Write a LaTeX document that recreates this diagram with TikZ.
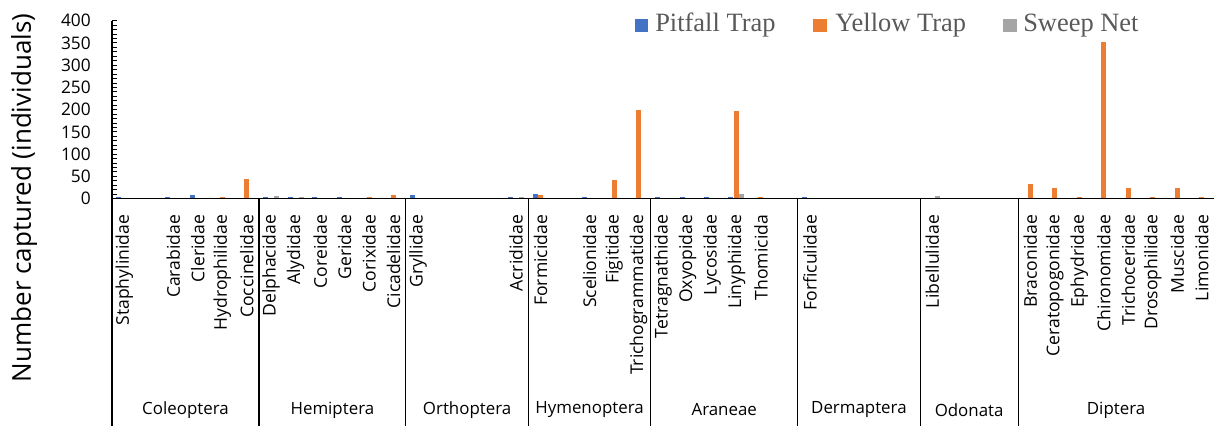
\documentclass[tikz,border=0pt]{standalone}
\usepackage{fontspec}
\setmainfont{Open Sans}
\newfontfamily\legendfont{Liberation Serif}
\definecolor{pitfallblue}{HTML}{4472C4}
\definecolor{yellowtrap}{HTML}{ED7D31}
\definecolor{sweepgray}{HTML}{A5A5A5}
\definecolor{legendtext}{HTML}{595959}
\tikzset{
  famlabel/.style={rotate=90, anchor=east, inner sep=0pt, font=\fontsize{12.5}{14}\selectfont},
  orderlabel/.style={inner sep=0pt, font=\fontsize{12}{14}\selectfont},
  ticklabel/.style={anchor=east, inner sep=0pt, font=\fontsize{12.3}{14}\selectfont},
  legendtext/.style={anchor=base west, inner sep=0pt, text=legendtext, font=\legendfont\fontsize{18.8}{22}\selectfont},
  axisline/.style={line width=0.8pt},
}
\newcommand{\slotw}{24.489}
\newcommand{\valsc}{0.4448}
\begin{document}
\begin{tikzpicture}[x=0.025cm, y=0.025cm]
	\useasboundingbox (0,0) rectangle (1214,426);
	\node[rotate=90, inner sep=0pt, font=\fontsize{18.5}{22}\selectfont] (ytitle) at (24,228) {Number captured (individuals)};
	\begin{scope}[shift={(112,227.4)}]
		% bars: slot / pitfall / yellow / sweep
		\foreach \i/\pf/\yt/\sw in {0/4/0/0, 2/4/0/0, 3/7/0/0, 4/0/4/0, 5/0/45/0, 6/4/0/5, 7/4/0/4, 8/4/0/0, 9/4/0/0, 10/0/4/0, 11/0/7/0, 12/7/0/0, 16/4/0/4, 17/10/7/0, 19/4/0/0, 20/0/42/0, 21/0/200/0, 22/3/0/0, 23/4/0/0, 24/4/0/0, 25/4/197/10, 26/0/4/0, 28/3/0/0, 33/0/0/6, 37/0/32/0, 38/0/23/0, 39/0/4/0, 40/0/352/0, 41/0/23/0, 42/0/4/0, 43/0/23/0, 44/0/4/0}{
			\pgfmathsetmacro{\c}{(\i+0.5)*\slotw}
			\ifnum\pf>0 \fill[pitfallblue] (\c-8,0) rectangle (\c-3,\pf*\valsc); \fi
			\ifnum\yt>0 \fill[yellowtrap] (\c-2.5,0) rectangle (\c+2.5,\yt*\valsc); \fi
			\ifnum\sw>0 \fill[sweepgray] (\c+3,0) rectangle (\c+8,\sw*\valsc); \fi
		}
		% axes
		\draw[axisline] (0,-227.4) -- (0,400*\valsc);
		\draw[axisline] (0,0) -- (1102,0);
		\foreach \v in {10,20,...,400}
			\draw[line width=0.6pt] (0,\v*\valsc) -- (5,\v*\valsc);
		\foreach \v in {0,50,...,400}
			\node[ticklabel] (y\v) at (-21,\v*\valsc) {\v};
		% families
		\foreach \i/\fam in {0/Staphylinidae, 2/Carabidae, 3/Cleridae, 4/Hydrophilidae, 5/Coccinelidae, 6/Delphacidae, 7/Alydidae, 8/Coreidae, 9/Geridae, 10/Corixidae, 11/Cicadelidae, 12/Gryllidae, 16/Acrididae, 17/Formicidae, 19/Scelionidae, 20/Figitidae, 21/Trichogrammatidae, 22/Tetragnathidae, 23/Oxyopidae, 24/Lycosidae, 25/Linyphiidae, 26/Thomicida, 28/Forficulidae, 33/Libellulidae, 37/Braconidae, 38/Ceratopogonidae, 39/Ephydridae, 40/Chironomidae, 41/Trichoceridae, 42/Drosophilidae, 43/Muscidae, 44/Limonidae}
			\node[famlabel] (fam\i) at ({(\i+0.5)*\slotw},-16) {\fam};
		% orders
		\foreach \a/\b/\ord in {0/6/Coleoptera, 6/12/Hemiptera, 12/17/Orthoptera, 17/22/Hymenoptera, 22/28/Araneae, 28/33/Dermaptera, 33/37/Odonata, 37/45/Diptera}{
			\draw[axisline] (\a*\slotw,0) -- (\a*\slotw,-227.4);
			\node[orderlabel] (\ord) at ({(\a+\b)/2*\slotw},-211.4) {\ord};
		}
	\end{scope}
	% legend
	\fill[pitfallblue] (635,394) rectangle (648,407);
	\node[legendtext] (legpit) at (655,394) {Pitfall Trap};
	\fill[yellowtrap] (813,394) rectangle (827,407);
	\node[legendtext] (legyel) at (835,394) {Yellow Trap};
	\fill[sweepgray] (1003,394) rectangle (1017,407);
	\node[legendtext] (legswe) at (1023,394) {Sweep Net};
\end{tikzpicture}
\end{document}
